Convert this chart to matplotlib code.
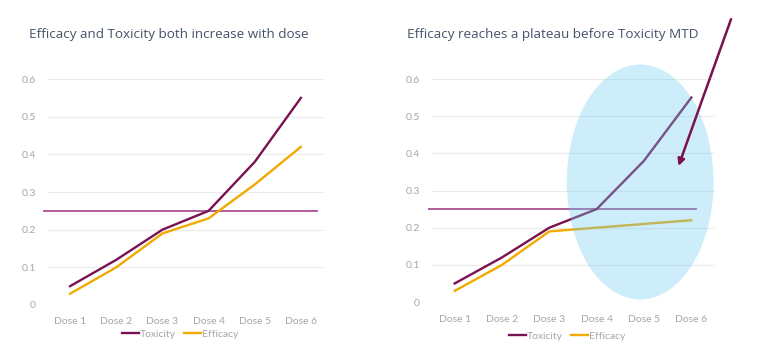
import matplotlib.pyplot as plt
from matplotlib.patches import Ellipse

doses = ["Dose 1", "Dose 2", "Dose 3", "Dose 4", "Dose 5", "Dose 6"]
toxicity = [0.05, 0.12, 0.20, 0.25, 0.38, 0.55]
efficacy_left = [0.03, 0.10, 0.19, 0.23, 0.32, 0.42]
efficacy_right = [0.03, 0.10, 0.19, 0.20, 0.21, 0.22]
mtd = 0.25
yticks = [0, 0.1, 0.2, 0.3, 0.4, 0.5, 0.6]
ytick_labels = ["0", "0.1", "0.2", "0.3", "0.4", "0.5", "0.6"]
titles = ["Efficacy and Toxicity both increase with dose",
          "Efficacy reaches a plateau before Toxicity MTD"]

TOX = "#7a1150"
EFF = "#f0aa00"
MTD = "#a9508c"
GRID = "#ebebeb"
TICK = "#a6a6a6"
TITLE = "#44546a"

plt.rcParams["font.family"] = ["Lato", "DejaVu Sans"]

fig = plt.figure(figsize=(7.8, 3.62), dpi=100)


def draw_panel(ax, eff, title, title_x, mtd_span, legend_y):
    x = range(len(doses))
    ax.plot(x, toxicity, color=TOX, lw=1.7, label="Toxicity", zorder=3)
    ax.plot(x, eff, color=EFF, lw=1.7, label="Efficacy", zorder=3)
    ax.plot(mtd_span, [mtd, mtd], color=MTD, lw=1.3, clip_on=False, zorder=2)
    ax.set_xlim(-0.5, 5.5)
    ax.set_ylim(0, 0.6)
    ax.set_yticks(yticks)
    ax.set_yticklabels(ytick_labels)
    ax.set_xticks(list(x))
    ax.set_xticklabels(doses)
    ax.tick_params(length=0, colors=TICK, labelsize=7.5)
    ax.tick_params(axis="y", pad=8)
    ax.tick_params(axis="x", pad=9)
    ax.grid(axis="y", color=GRID, lw=0.8)
    ax.set_axisbelow(True)
    for s in ax.spines.values():
        s.set_visible(False)
    ax.legend(loc="center", bbox_to_anchor=(0.48, legend_y), ncol=2,
              frameon=False, fontsize=7.5, handlelength=1.6,
              handletextpad=0.1, columnspacing=0.8, labelcolor=TICK)
    fig.text(title_x, 0.905, title, fontsize=9.7,
             color=TITLE, family=["Open Sans", "DejaVu Sans"], va="center")


ax1 = fig.add_axes([0.0603, 0.1575, 0.355, 0.624])
draw_panel(ax1, efficacy_left, titles[0], 29 / 780, [-0.57, 5.35], -0.128)

ax2 = fig.add_axes([0.5526, 0.1657, 0.364, 0.616])
draw_panel(ax2, efficacy_right, titles[1], 407 / 780, [-0.55, 5.1], -0.152)

ell = Ellipse((3.92, 0.323), 3.10, 0.632, facecolor=(0.43, 0.80, 0.94),
              alpha=0.35, edgecolor="none", zorder=4, clip_on=False)
ax2.add_patch(ell)
ax2.annotate("", xy=(4.73, 0.366), xytext=(5.84, 0.761),
             arrowprops=dict(arrowstyle="-|>", color=TOX, lw=1.8,
                             mutation_scale=10, shrinkA=0, shrinkB=0),
             annotation_clip=False, zorder=5)

fig.savefig("out.png", dpi=100)
